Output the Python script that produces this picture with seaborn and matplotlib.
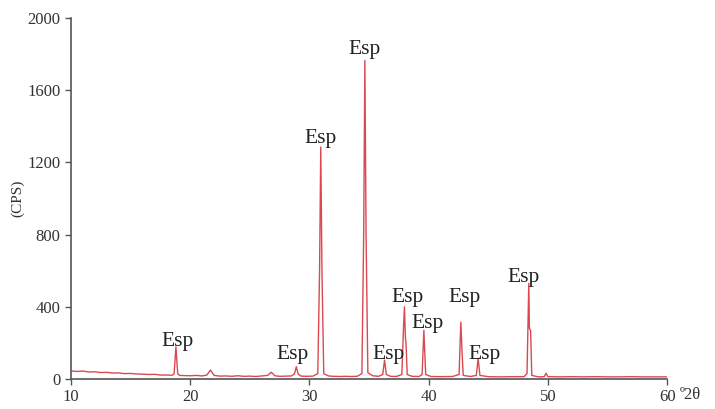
import pandas as pd
import seaborn as sns
import matplotlib.pyplot as plt

# Diffraction pattern (2theta in degrees, intensity in CPS)
two_theta = [10.0, 10.5, 11.0, 11.5, 12.0, 12.5, 13.0, 13.5, 14.0, 14.5, 15.0, 15.5,
             16.0, 16.5, 17.0, 17.5, 18.0, 18.5, 18.65, 18.8, 18.95, 19.1, 19.5, 20.0,
             20.5, 21.0, 21.4, 21.7, 22.0, 22.5, 23.0, 23.5, 24.0, 24.5, 25.0, 25.5,
             26.0, 26.5, 26.8, 27.1, 27.5, 28.0, 28.5, 28.75, 28.9, 29.05, 29.3, 29.8,
             30.3, 30.7, 30.85, 30.95, 31.05, 31.2, 31.6, 32.0, 32.5, 33.0, 33.5, 34.0,
             34.4, 34.55, 34.65, 34.75, 34.9, 35.3, 35.8, 36.15, 36.3, 36.45, 36.8, 37.3,
             37.75, 37.9, 37.97, 38.05, 38.1, 38.2, 38.6, 39.2, 39.45, 39.6, 39.75, 40.2,
             41.0, 42.0, 42.55, 42.7, 42.8, 42.9, 43.5, 44.0, 44.15, 44.3, 45.0, 46.0,
             47.0, 48.0, 48.25, 48.4, 48.45, 48.55, 48.65, 49.2, 49.7, 49.85, 50.0, 51.0,
             52.0, 53.0, 54.0, 55.0, 56.0, 57.0, 58.0, 59.0, 60.0]
cps = [45, 42, 44, 39, 40, 36, 37, 33, 34, 30, 31, 28,
       27, 25, 26, 22, 22, 21, 30, 178, 30, 20, 19, 18,
       20, 17, 22, 50, 20, 16, 17, 15, 18, 15, 16, 14,
       17, 20, 38, 18, 15, 16, 17, 30, 68, 28, 16, 15,
       16, 30, 600, 1285, 600, 30, 17, 15, 14, 15, 14, 15,
       30, 800, 1765, 800, 35, 18, 15, 25, 105, 25, 15, 14,
       25, 300, 400, 230, 200, 25, 15, 14, 25, 270, 25, 14,
       13, 14, 25, 315, 150, 20, 14, 20, 115, 20, 13, 12,
       13, 13, 30, 530, 280, 270, 20, 12, 13, 32, 13, 12,
       13, 12, 13, 12, 12, 13, 12, 12, 12]

# "Esp" label positions
label_x = [18.9, 28.6, 30.9, 34.6, 36.6, 38.2, 39.9, 43.05, 44.7, 48.0]
label_y = [210, 138, 1335, 1828, 138, 454, 305, 454, 138, 565]

df = pd.DataFrame({'two_theta': two_theta, 'cps': cps})

sns.set_style('ticks')
plt.rcParams['font.family'] = ['Liberation Serif', 'DejaVu Serif']

fig = plt.figure(figsize=(7.15, 4.09), dpi=100)
ax = fig.add_axes([0.0993, 0.0733, 0.8337, 0.8827])

sns.lineplot(data=df, x='two_theta', y='cps', estimator=None, color='#da4852',
             linewidth=1.0, ax=ax)

for lx, ly in zip(label_x, label_y):
    ax.text(lx, ly, 'Esp', ha='center', va='center', fontsize=15.5, color='#222222')

ax.set_xlim(10, 60)
ax.set_ylim(0, 2000)
ax.set_xticks([10, 20, 30, 40, 50, 60])
ax.set_yticks([0, 400, 800, 1200, 1600, 2000])
ax.set_xlabel('')
ax.set_ylabel('(CPS)', fontsize=11, color='#333333', labelpad=2)
ax.tick_params(axis='both', labelsize=12, colors='#555555', labelcolor='#333333',
               length=4, width=1.0, direction='out')
ax.annotate('º2θ', xy=(1, 0), xycoords='axes fraction', xytext=(9, -11.5),
            textcoords='offset points', ha='left', va='center', fontsize=12,
            color='#333333')
sns.despine(ax=ax)
for s in ['left', 'bottom']:
    ax.spines[s].set_color('#555555')
    ax.spines[s].set_linewidth(1.2)

plt.savefig('out.png', dpi=100)
